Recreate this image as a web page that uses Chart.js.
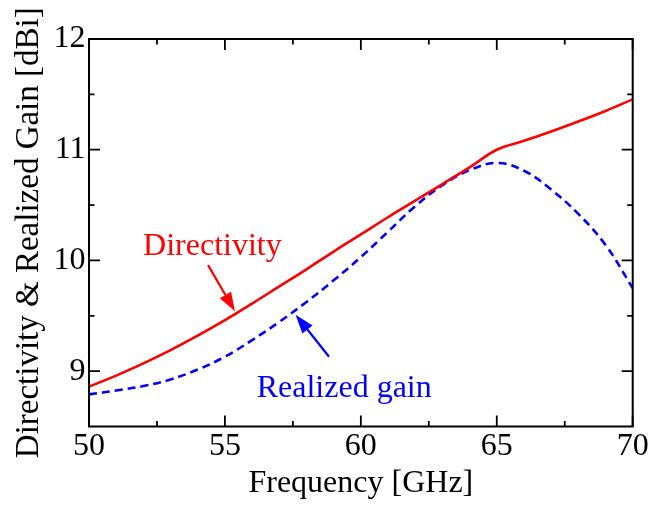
<!DOCTYPE html>
<html>
<head>
<meta charset="utf-8">
<script src="https://cdn.jsdelivr.net/npm/chart.js@4/dist/chart.umd.min.js"></script>
<style>
  html, body { margin: 0; padding: 0; background: #fff; }
  #wrap { width: 665px; height: 508px; }
</style>
</head>
<body>
<div id="wrap"><canvas id="c" width="665" height="508"></canvas></div>
<script>
// ---- data ----
const frequency = [50, 51, 52, 53, 54, 55, 56, 57, 58, 59, 60, 61, 62, 63, 64, 65, 66, 67, 68, 69, 70];
const directivity = [8.86, 8.96, 9.07, 9.19, 9.32, 9.46, 9.61, 9.765, 9.92, 10.08, 10.235, 10.39, 10.54, 10.69, 10.84, 11.0, 11.08, 11.165, 11.255, 11.35, 11.455];
const realizedGain = [8.79, 8.825, 8.865, 8.925, 9.015, 9.13, 9.28, 9.445, 9.625, 9.82, 10.03, 10.26, 10.49, 10.68, 10.815, 10.88, 10.81, 10.64, 10.42, 10.14, 9.75];

const xMajorTicks = [50, 55, 60, 65, 70];
const xMinorTicks = [52.5, 57.5, 62.5, 67.5];
const yMajorTicks = [9, 10, 11, 12];
const yMinorTicks = [9.5, 10.5, 11.5];

const xLabel = 'Frequency [GHz]';
const yLabel = 'Directivity & Realized Gain [dBi]';

// annotation labels and arrows, in data coordinates
const directivityLabel = { text: 'Directivity', x: 51.99, y: 10.049 };
const gainLabel = { text: 'Realized gain', x: 56.17, y: 8.769 };
const directivityArrow = { from: [54.38, 9.958], to: [55.37, 9.54] };
const gainArrow = { from: [58.83, 9.13], to: [57.6, 9.51] };

const FONT = "'Liberation Serif', 'Times New Roman', serif";

const framePlugin = {
  id: 'frameTicks',
  afterDatasetsDraw(chart) {
    const { ctx, chartArea: a, scales: { x, y } } = chart;
    ctx.save();
    ctx.strokeStyle = '#000';
    ctx.lineWidth = 1.8;
    const major = 11, minor = 5.5;
    const xt = (v, len) => {
      const px = x.getPixelForValue(v);
      ctx.beginPath();
      ctx.moveTo(px, a.bottom); ctx.lineTo(px, a.bottom - len);
      ctx.moveTo(px, a.top); ctx.lineTo(px, a.top + len);
      ctx.stroke();
    };
    const yt = (v, len) => {
      const py = y.getPixelForValue(v);
      ctx.beginPath();
      ctx.moveTo(a.left, py); ctx.lineTo(a.left + len, py);
      ctx.moveTo(a.right, py); ctx.lineTo(a.right - len, py);
      ctx.stroke();
    };
    xMajorTicks.forEach(v => xt(v, major));
    xMinorTicks.forEach(v => xt(v, minor));
    yMajorTicks.forEach(v => yt(v, major));
    yMinorTicks.forEach(v => yt(v, minor));
    ctx.lineWidth = 2;
    ctx.strokeRect(a.left, a.top, a.right - a.left, a.bottom - a.top);

    // annotations
    const arrow = (arr, color) => {
      const x0 = x.getPixelForValue(arr.from[0]), y0 = y.getPixelForValue(arr.from[1]);
      const x1 = x.getPixelForValue(arr.to[0]), y1 = y.getPixelForValue(arr.to[1]);
      const ang = Math.atan2(y1 - y0, x1 - x0);
      const hl = 19, hw = 6.5;
      const bx = x1 - hl * Math.cos(ang), by = y1 - hl * Math.sin(ang);
      ctx.strokeStyle = color; ctx.fillStyle = color; ctx.lineWidth = 2.2;
      ctx.beginPath(); ctx.moveTo(x0, y0); ctx.lineTo(bx, by); ctx.stroke();
      ctx.beginPath();
      ctx.moveTo(x1, y1);
      ctx.lineTo(bx + hw * Math.sin(ang), by - hw * Math.cos(ang));
      ctx.lineTo(bx - hw * Math.sin(ang), by + hw * Math.cos(ang));
      ctx.closePath(); ctx.fill();
    };
    arrow(directivityArrow, '#ff0000');
    arrow(gainArrow, '#0000ff');
    ctx.font = '32px ' + FONT;
    ctx.textAlign = 'left';
    ctx.textBaseline = 'alphabetic';
    ctx.fillStyle = '#ff0000';
    ctx.fillText(directivityLabel.text, x.getPixelForValue(directivityLabel.x), y.getPixelForValue(directivityLabel.y));
    ctx.fillStyle = '#0000ff';
    ctx.fillText(gainLabel.text, x.getPixelForValue(gainLabel.x), y.getPixelForValue(gainLabel.y));
    ctx.restore();
  }
};

new Chart(document.getElementById('c'), {
  type: 'line',
  data: {
    labels: frequency,
    datasets: [
      {
        label: 'Directivity',
        data: frequency.map((f, i) => ({ x: f, y: directivity[i] })),
        borderColor: '#ff0000',
        borderWidth: 2.6,
        pointRadius: 0,
        tension: 0.4,
        fill: false
      },
      {
        label: 'Realized gain',
        data: frequency.map((f, i) => ({ x: f, y: realizedGain[i] })),
        borderColor: '#0000ff',
        borderWidth: 2.6,
        borderDash: [8, 5],
        pointRadius: 0,
        tension: 0.4,
        fill: false
      }
    ]
  },
  options: {
    responsive: false,
    animation: false,
    devicePixelRatio: 1,
    layout: { padding: { top: 39, right: 32.3, left: 0, bottom: 0 } },
    plugins: { legend: { display: false }, tooltip: { enabled: false } },
    scales: {
      x: {
        type: 'linear',
        min: 50, max: 70,
        afterBuildTicks: s => { s.ticks = xMajorTicks.map(v => ({ value: v })); },
        afterFit: s => { s.height = 81.5; },
        grid: { display: false, drawTicks: false },
        border: { display: false },
        ticks: { color: '#000', padding: 1, font: { family: FONT, size: 32, lineHeight: 1.2 }, maxRotation: 0, autoSkip: false },
        title: { display: true, text: xLabel, color: '#000', font: { family: FONT, size: 32, lineHeight: 1.2 }, padding: { top: 0, bottom: 5.3 } }
      },
      y: {
        type: 'linear',
        min: 8.5, max: 12,
        afterBuildTicks: s => { s.ticks = yMajorTicks.map(v => ({ value: v })); },
        afterFit: s => { s.width = 89; },
        grid: { display: false, drawTicks: false },
        border: { display: false },
        ticks: { color: '#000', padding: 3.5, font: { family: FONT, size: 32, lineHeight: 1.2 } },
        title: { display: true, text: yLabel, color: '#000', font: { family: FONT, size: 33, lineHeight: 1.2 }, padding: { top: 10, bottom: 0 } }
      }
    }
  },
  plugins: [framePlugin]
});
</script>
</body>
</html>
